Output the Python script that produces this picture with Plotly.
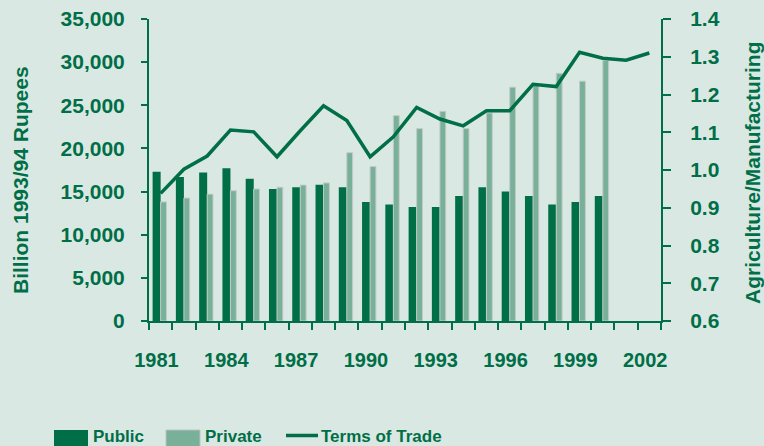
import plotly.graph_objects as go

years = list(range(1981, 2003))
public = [17300, 16700, 17200, 17700, 16500, 15300, 15500, 15800, 15500, 13800,
          13500, 13200, 13200, 14500, 15500, 15000, 14500, 13500, 13800, 14500, None, None]
private = [13800, 14250, 14700, 15100, 15300, 15500, 15750, 16000, 19500, 17900,
           23800, 22300, 24300, 22300, 24100, 27100, 27500, 28700, 27800, 30200, None, None]
terms_of_trade = [0.938, 1.002, 1.037, 1.106, 1.101, 1.035, 1.104, 1.170, 1.131, 1.035,
                  1.088, 1.166, 1.135, 1.117, 1.157, 1.157, 1.227, 1.221, 1.312, 1.296, 1.291, 1.310]
tick_years = [1981, 1984, 1987, 1990, 1993, 1996, 1999, 2002]
tick_labels = [str(y) for y in tick_years]

GREEN = "#006f47"
LIGHT = "#78b09a"
BG = "#dae8e3"
FONT = "Liberation Sans, Arial, sans-serif"

L, R, T, B = 149, 103, 19, 125
W, H = 764, 446
PW, PH = W - L - R, H - T - B

def px(x):
    return (x - L) / PW

def py(y):
    return (H - B - y) / PH

fig = go.Figure()
fig.add_trace(go.Bar(x=years, y=public, name="Public", marker=dict(color=GREEN, line=dict(width=0)),
                     width=0.345, offset=-0.345))
fig.add_trace(go.Bar(x=years, y=private, name="Private",
                     marker=dict(color=LIGHT, line=dict(width=1, color="#c2cbc7")),
                     width=0.25, offset=0.0))
fig.add_trace(go.Scatter(x=years, y=terms_of_trade, name="Terms of Trade", yaxis="y2",
                         mode="lines", line=dict(color=GREEN, width=3.5)))

yfont = dict(family=FONT, size=21, color=GREEN, weight="bold")
xfont = dict(family=FONT, size=20, color=GREEN, weight="bold")

fig.update_layout(
    width=W, height=H,
    margin=dict(l=L, r=R, t=T, b=B, autoexpand=False),
    paper_bgcolor=BG, plot_bgcolor=BG,
    showlegend=False,
    barmode="overlay",
    xaxis=dict(range=[1980.5, 2002.5], tickmode="array", automargin=False,
               tickvals=[y - 0.18 for y in tick_years], ticktext=tick_labels,
               ticks="", showline=True, linecolor=GREEN, linewidth=2,
               showgrid=False, zeroline=False, tickfont=xfont, ticklabelstandoff=20,
               minor=dict(tickmode="array", tickvals=[y + 0.5 for y in range(1980, 2003)],
                          ticks="outside", ticklen=7, tickwidth=2, tickcolor=GREEN, showgrid=False)),
    yaxis=dict(range=[0, 35000], dtick=5000, tickformat=",", ticks="outside", ticklen=6,
               tickwidth=2, tickcolor=GREEN, showline=True, linecolor=GREEN, linewidth=2,
               showgrid=False, zeroline=False, tickfont=yfont, ticklabelstandoff=12,
               automargin=False),
    yaxis2=dict(range=[0.6, 1.4], dtick=0.1, tickformat=".1f", overlaying="y", side="right",
                ticks="outside", ticklen=8, tickwidth=2, tickcolor=GREEN, showline=True,
                linecolor=GREEN, linewidth=2, showgrid=False, zeroline=False,
                tickfont=yfont, ticklabelstandoff=15, automargin=False),
)

fig.add_annotation(text="Billion 1993/94 Rupees", textangle=-90, xref="paper", yref="paper",
                   x=px(21), y=py(180), xanchor="center", yanchor="middle", showarrow=False,
                   font=dict(family=FONT, size=21, color=GREEN, weight="bold"))
fig.add_annotation(text="Agriculture/Manufacturing", textangle=-90, xref="paper", yref="paper",
                   x=px(753), y=py(173), xanchor="center", yanchor="middle", showarrow=False,
                   font=dict(family=FONT, size=21, color=GREEN, weight="bold"))

# Legend (manual)
legfont = dict(family=FONT, size=17, color=GREEN, weight="bold")
fig.add_shape(type="rect", xref="paper", yref="paper", x0=px(54), x1=px(88), y0=py(447), y1=py(430),
              fillcolor=GREEN, line=dict(width=0))
fig.add_shape(type="rect", xref="paper", yref="paper", x0=px(166), x1=px(200), y0=py(447), y1=py(430),
              fillcolor=LIGHT, line=dict(width=1, color="#b8c4bf"))
fig.add_shape(type="line", xref="paper", yref="paper", x0=px(286), x1=px(318), y0=py(435.5), y1=py(435.5),
              line=dict(width=3.5, color=GREEN))
for label, x in [("Public", 91), ("Private", 203), ("Terms of Trade", 319)]:
    fig.add_annotation(text=label, xref="paper", yref="paper", x=px(x), y=py(436),
                       xanchor="left", yanchor="middle", showarrow=False, font=legfont)

fig.write_html("out.html", config={"displayModeBar": False},
               post_script="document.body.style.margin='0';document.body.style.overflow='hidden';")
